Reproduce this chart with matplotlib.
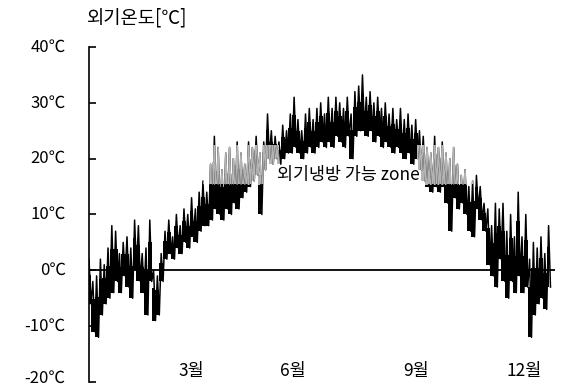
import numpy as np
import matplotlib
matplotlib.use('Agg')
import matplotlib.pyplot as plt
from matplotlib.patches import Rectangle
from matplotlib.transforms import blended_transform_factory

plt.rcParams['font.family'] = ['Noto Sans CJK KR', 'DejaVu Sans']

# Outdoor temperature, read every 3 days (day of year), daily high / low [deg C]
days = np.arange(0, 366, 3)
t_high = [2, -2, -1, 2, 1, 4, 8, 7, 3, 5, 6, 4, 9, 8, 3, 4, 9, 0, -1, 3,
          7, 9, 6, 10, 8, 11, 10, 13, 11, 14, 16, 14, 19, 24, 22, 18, 21, 22, 20, 23,
          21, 19, 23, 22, 24, 21, 23, 28, 25, 24, 23, 26, 25, 28, 31, 27, 25, 28, 29, 27,
          29, 30, 28, 31, 29, 31, 30, 29, 31, 28, 32, 33, 35, 31, 32, 30, 31, 29, 30, 28,
          29, 27, 29, 27, 28, 26, 27, 25, 24, 22, 21, 24, 22, 23, 21, 20, 22, 19, 17, 18,
          15, 16, 17, 15, 12, 11, 8, 12, 11, 12, 7, 10, 6, 14, 6, 10, 2, 5, 4, 6,
          3, 8]
t_low = [-6, -11, -12, -8, -6, -5, -4, -2, -4, -1, -3, -5, 0, -2, -4, -8, -2, -9, -8, -2,
         2, 3, 2, 4, 3, 5, 4, 6, 5, 7, 8, 8, 9, 11, 10, 9, 11, 10, 12, 11,
         13, 14, 15, 16, 17, 10, 18, 20, 19, 20, 19, 20, 21, 21, 22, 21, 20, 21, 22, 21,
         22, 23, 22, 23, 22, 24, 23, 22, 24, 20, 24, 25, 25, 24, 25, 23, 24, 22, 23, 22,
         21, 22, 21, 20, 21, 19, 20, 18, 16, 15, 14, 15, 14, 15, 12, 7, 13, 11, 12, 10,
         7, 6, 11, 9, 7, 1, -1, -3, 2, -2, -5, -2, -4, -1, -4, -3, -12, -8, -6, -5,
         -7, -3]

# periods where the free-cooling band is marked
zone_days = [(90, 150), (259, 305)]
zone_temp = (15.5, 22.5)
zone_label = '외기냉방 가능 zone'

month_labels = ['3월', '6월', '9월', '12월']
month_days = [81, 161, 258, 344]
y_ticks = [40, 30, 20, 10, 0, -10, -20]

hi = np.array(t_high, dtype=float)
lo = np.array(t_low, dtype=float)

# zigzag between highs and lows
x = np.column_stack([days, days + 1.5]).ravel()
y = np.column_stack([hi, lo]).ravel()

fig = plt.figure(figsize=(5.62, 3.88), dpi=100, facecolor='white')
ax = fig.add_axes([0.1584, 0.0155, 0.829, 0.8634])


def draw_temp(color, clip=None):
    # dense core of the daily swing plus the jagged trace
    band = ax.fill_between(days, lo, lo + 0.65 * (hi - lo), step='mid',
                           color=color, linewidth=0)
    ln, = ax.plot(x, y, color=color, linewidth=1.1)
    if clip is not None:
        band.set_clip_path(clip)
        ln.set_clip_path(clip)


draw_temp('black')
for d0, d1 in zone_days:
    r = Rectangle((d0, zone_temp[0]), d1 - d0, zone_temp[1] - zone_temp[0],
                  transform=ax.transData)
    draw_temp('#b4b4b4', r)

ax.axhline(0, color='black', linewidth=1.3)

ax.set_xlim(0, 368)
ax.set_ylim(-20, 40)

for s in ['top', 'right', 'bottom']:
    ax.spines[s].set_visible(False)
ax.spines['left'].set_linewidth(1.2)

ax.set_xticks([])
ax.set_yticks(y_ticks)
ax.set_yticklabels([])
ax.tick_params(axis='y', direction='in', length=5, width=1.2)

trans = blended_transform_factory(ax.transAxes, ax.transData)
for v in y_ticks:
    yy = v if v > -20 else -19.4
    ax.text(-0.05, yy, f'{v}℃', transform=trans, ha='right', va='center',
            fontsize=12, clip_on=False)

for lab, d in zip(month_labels, month_days):
    ax.text(d, -18, lab, ha='center', va='center', fontsize=12.5)

ax.text(205, 17, zone_label, ha='center', va='center', fontsize=12.5)

fig.text(0.155, 0.953, '외기온도[℃]', ha='left', va='center', fontsize=13.5)

fig.savefig('out.png', dpi=100)
